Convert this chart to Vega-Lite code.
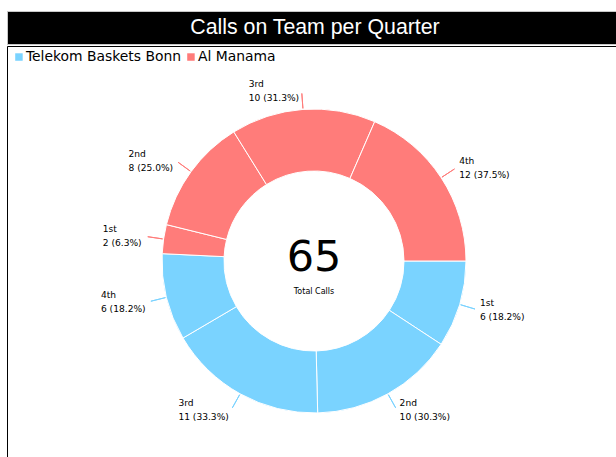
{
  "$schema": "https://vega.github.io/schema/vega-lite/v6.json",
  "padding": {"left": 6, "top": 10, "right": 0, "bottom": 0},
  "background": "white",
  "spacing": 0,
  "config": {"font": "DejaVu Sans"},
  "resolve": {"scale": {"color": "independent"}, "legend": {"color": "independent"}},
  "vconcat": [
    {
      "width": 610,
      "height": 33,
      "view": {"fill": "black", "stroke": "#c8c8c8", "strokeWidth": 1},
      "data": {"values": [{"title": "Calls on Team per Quarter"}]},
      "mark": {"type": "text", "color": "white", "font": "Liberation Sans", "fontSize": 21.3, "dx": 3, "baseline": "middle"},
      "encoding": {"text": {"field": "title", "type": "nominal"}}
    },
    {
      "width": 610,
      "height": 414,
      "view": {"stroke": "black", "strokeWidth": 1},
      "data": {
        "values": [
          {"seq": 1, "team": "Telekom Baskets Bonn", "quarter": "1st", "calls": 6, "label": "6 (18.2%)"},
          {"seq": 2, "team": "Telekom Baskets Bonn", "quarter": "2nd", "calls": 10, "label": "10 (30.3%)"},
          {"seq": 3, "team": "Telekom Baskets Bonn", "quarter": "3rd", "calls": 11, "label": "11 (33.3%)"},
          {"seq": 4, "team": "Telekom Baskets Bonn", "quarter": "4th", "calls": 6, "label": "6 (18.2%)"},
          {"seq": 5, "team": "Al Manama", "quarter": "1st", "calls": 2, "label": "2 (6.3%)"},
          {"seq": 6, "team": "Al Manama", "quarter": "2nd", "calls": 8, "label": "8 (25.0%)"},
          {"seq": 7, "team": "Al Manama", "quarter": "3rd", "calls": 10, "label": "10 (31.3%)"},
          {"seq": 8, "team": "Al Manama", "quarter": "4th", "calls": 12, "label": "12 (37.5%)"}
        ]
      },
      "layer": [
        {
          "mark": {"type": "arc", "radius": 152, "radius2": 90, "stroke": "white", "strokeWidth": 1, "xOffset": 2, "yOffset": 8},
          "encoding": {
            "theta": {"field": "calls", "type": "quantitative", "stack": true, "scale": {"range": [1.5707963, 7.8539816]}},
            "order": {"field": "seq", "type": "quantitative", "sort": "ascending"},
            "color": {
              "field": "team", "type": "nominal",
              "scale": {"domain": ["Telekom Baskets Bonn", "Al Manama"], "range": ["#7ad3ff", "#ff7c7a"]},
              "legend": {
                "orient": "none", "legendX": 5, "legendY": 4, "direction": "horizontal", "title": null,
                "symbolType": "square", "symbolSize": 56, "symbolStrokeWidth": 0,
                "labelFont": "DejaVu Sans", "labelFontSize": 13.9, "labelColor": "black",
                "labelOffset": 0, "columnPadding": 2, "padding": 0
              }
            }
          }
        },
        {
          "mark": {"type": "arc", "radius": 168, "radius2": 153, "padAngle": 1, "fillOpacity": 0, "strokeWidth": 1, "xOffset": 2, "yOffset": 8},
          "encoding": {
            "theta": {"field": "calls", "type": "quantitative", "stack": true, "scale": {"range": [1.5707963, 7.8539816]}},
            "order": {"field": "seq", "type": "quantitative", "sort": "ascending"},
            "stroke": {
              "field": "team", "type": "nominal",
              "scale": {"domain": ["Telekom Baskets Bonn", "Al Manama"], "range": ["#7ad3ff", "#ff7c7a"]},
              "legend": null
            }
          }
        },
        {
          "mark": {
            "type": "text", "radius": 170, "fontSize": 9.1, "align": "left", "baseline": "middle", "dy": -7, "xOffset": 2, "yOffset": 8, "color": "black",
            "dx": {"expr": "((datum.team == 'Al Manama' && datum.quarter == '4th') || (datum.team == 'Telekom Baskets Bonn' && (datum.quarter == '1st' || datum.quarter == '2nd'))) ? 3 : -3 - 5.0 * length(datum.label)"}
          },
          "encoding": {
            "theta": {"field": "calls", "type": "quantitative", "stack": true, "scale": {"range": [1.5707963, 7.8539816]}},
            "order": {"field": "seq", "type": "quantitative", "sort": "ascending"},
            "text": {"field": "quarter", "type": "nominal"}
          }
        },
        {
          "mark": {
            "type": "text", "radius": 170, "fontSize": 9.1, "align": "left", "baseline": "middle", "dy": 7, "xOffset": 2, "yOffset": 8, "color": "black",
            "dx": {"expr": "((datum.team == 'Al Manama' && datum.quarter == '4th') || (datum.team == 'Telekom Baskets Bonn' && (datum.quarter == '1st' || datum.quarter == '2nd'))) ? 3 : -3 - 5.0 * length(datum.label)"}
          },
          "encoding": {
            "theta": {"field": "calls", "type": "quantitative", "stack": true, "scale": {"range": [1.5707963, 7.8539816]}},
            "order": {"field": "seq", "type": "quantitative", "sort": "ascending"},
            "text": {"field": "label", "type": "nominal"}
          }
        },
        {
          "transform": [{"aggregate": [{"op": "sum", "field": "calls", "as": "total"}]}],
          "mark": {"type": "text", "fontSize": 43, "baseline": "middle", "dy": -3, "xOffset": 2, "yOffset": 8, "color": "black"},
          "encoding": {"text": {"field": "total", "type": "quantitative"}}
        },
        {
          "transform": [{"aggregate": [{"op": "sum", "field": "calls", "as": "total"}]}],
          "mark": {"type": "text", "text": "Total Calls", "fontSize": 8, "baseline": "middle", "dy": 31, "xOffset": 2, "yOffset": 8, "color": "black"},
          "encoding": {}
        }
      ]
    }
  ]
}
